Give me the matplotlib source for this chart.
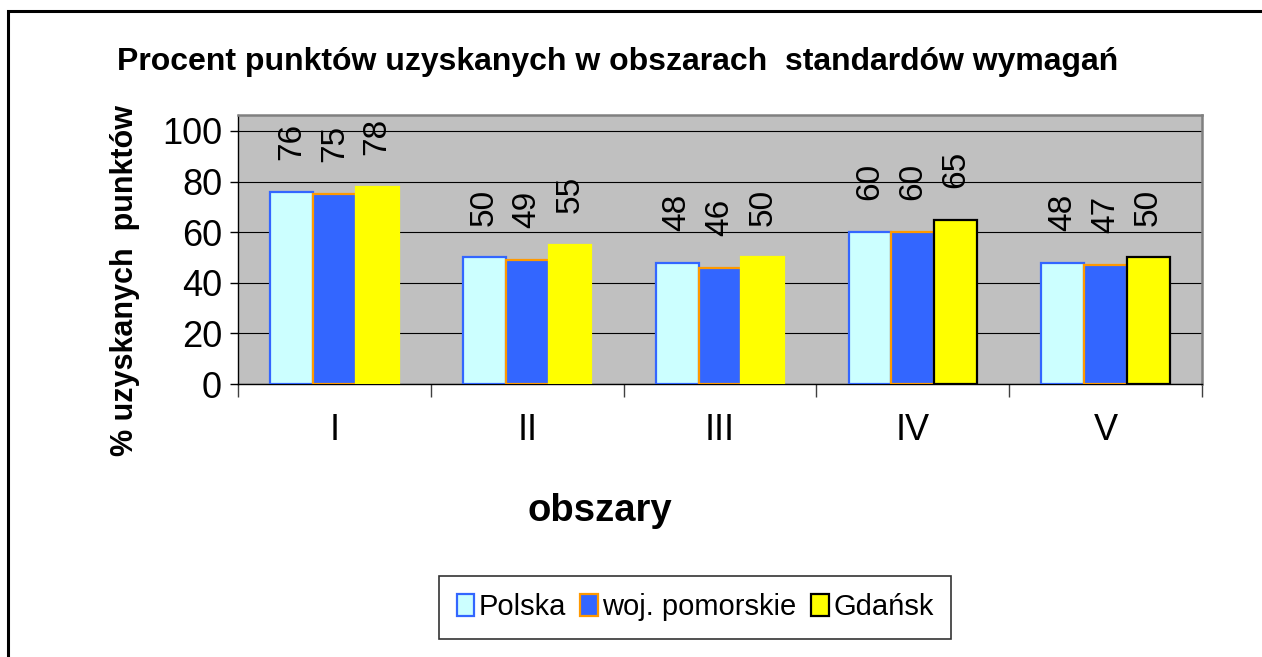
import matplotlib
matplotlib.use("Agg")
import matplotlib.pyplot as plt
from matplotlib.patches import Rectangle
import numpy as np

plt.rcParams['font.family'] = ['Liberation Sans', 'DejaVu Sans']

categories = ["I", "II", "III", "IV", "V"]
series_names = ["Polska", "woj. pomorskie", "Gdańsk"]
polska = [76, 50, 48, 60, 48]
pomorskie = [75, 49, 46, 60, 47]
gdansk = [78, 55, 50, 65, 50]
yticks = [0, 20, 40, 60, 80, 100]

title = "Procent punktów uzyskanych w obszarach  standardów wymagań"
ylabel = "% uzyskanych  punktów"
xlabel = "obszary"

W, H = 1262, 657
fig = plt.figure(figsize=(W / 100, H / 100), dpi=100)

# outer frame (cropped on right/bottom in the reference)
fig.patches.append(Rectangle((8 / W, -0.1), 1.2, 1 - 11 / H + 0.1,
                             transform=fig.transFigure, fill=False,
                             edgecolor='black', linewidth=2.2, zorder=0))

ax = fig.add_axes([238 / W, 1 - 384 / H, (1202 - 238) / W, (384 - 115) / H])
ax.set_facecolor('#C0C0C0')

x = np.arange(len(categories))
bw = 0.222
series = [polska, pomorskie, gdansk]
faces = ['#CCFFFF', '#3366FF', '#FFFF00']
edges = [['#3366FF'] * 5, ['#FF9900'] * 5,
         ['#FFFF00', '#FFFF00', '#FFFF00', 'black', 'black']]
for i, (vals, fc, ec) in enumerate(zip(series, faces, edges)):
    bars = ax.bar(x + (i - 1) * bw, vals, width=bw, color=fc,
                  edgecolor=ec, linewidth=1.6, zorder=3)
    ax.bar_label(bars, labels=[str(v) for v in vals], padding=23,
                 rotation=90, fontsize=24)

ax.set_xlim(-0.5, len(categories) - 0.5)
ax.set_ylim(0, 106.3)
ax.set_yticks(yticks)
ax.set_yticklabels([str(t) for t in yticks], fontsize=26)
ax.yaxis.grid(True, color='black', linewidth=0.8)
ax.set_axisbelow(True)
ax.tick_params(axis='y', length=6, width=1, pad=5.5)

ax.set_xticks(np.arange(len(categories) + 1) - 0.5)
ax.set_xticklabels([])
ax.set_xticks(x, minor=True)
ax.set_xticklabels(categories, minor=True, fontsize=26)
ax.tick_params(axis='x', which='major', length=9, width=1, color='#404040')
ax.tick_params(axis='x', which='minor', length=0, pad=21)

for s in ['top', 'right']:
    ax.spines[s].set_color('#808080')
    ax.spines[s].set_linewidth(1.8)
for s in ['left', 'bottom']:
    ax.spines[s].set_color('black')
    ax.spines[s].set_linewidth(1.0)

fig.text(618 / W, 1 - 62 / H, title, ha='center', va='center',
         fontsize=23, fontweight='bold')
fig.text(125 / W, 1 - 280 / H, ylabel, ha='center', va='center',
         rotation=90, fontsize=22, fontweight='bold')
fig.text(600 / W, 1 - 511 / H, xlabel, ha='center', va='center',
         fontsize=27.5, fontweight='bold')

handles = [Rectangle((0, 0), 1, 1, facecolor=faces[0], edgecolor='#3366FF', linewidth=1.6),
           Rectangle((0, 0), 1, 1, facecolor=faces[1], edgecolor='#FF9900', linewidth=1.6),
           Rectangle((0, 0), 1, 1, facecolor=faces[2], edgecolor='black', linewidth=1.6)]
leg = fig.legend(handles, series_names, loc='center', bbox_to_anchor=(695 / W, 1 - 607 / H),
                 ncol=3, fontsize=21, frameon=True, fancybox=False,
                 handlelength=0.6, handleheight=0.8, handletextpad=0.15,
                 columnspacing=0.5, borderpad=0.6, borderaxespad=0)
leg.get_frame().set_edgecolor('black')
leg.get_frame().set_linewidth(1.2)

fig.savefig("out.png", dpi=100)
